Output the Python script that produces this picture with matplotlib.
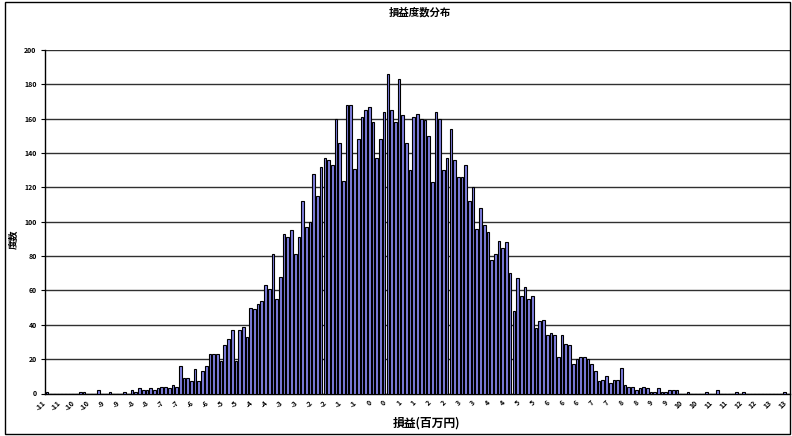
import numpy as np
import matplotlib
matplotlib.use("Agg")
import matplotlib.pyplot as plt
import matplotlib.transforms as mtransforms

plt.rcParams['font.family'] = ['Noto Sans CJK JP', 'DejaVu Sans']

# frequency counts for each of the 201 classes
counts = [
    1, 0, 0, 0, 0, 0, 0, 0, 0, 1,
    1, 0, 0, 0, 2, 0, 0, 1, 0, 0,
    0, 1, 0, 2, 1, 3, 2, 2, 3, 2,
    3, 4, 4, 3, 5, 4, 16, 9, 9, 7,
    14, 7, 13, 16, 23, 23, 23, 19, 28, 32,
    37, 19, 37, 39, 33, 50, 49, 52, 54, 63,
    61, 81, 55, 68, 93, 91, 95, 81, 91, 112,
    97, 100, 128, 115, 132, 137, 136, 133, 160, 146,
    124, 168, 168, 131, 148, 161, 165, 167, 158, 137,
    148, 164, 186, 165, 158, 183, 162, 146, 130, 161,
    163, 160, 159, 150, 123, 164, 160, 130, 137, 154,
    136, 126, 126, 133, 112, 120, 96, 108, 98, 94,
    78, 81, 89, 85, 88, 70, 48, 67, 57, 62,
    55, 57, 38, 42, 43, 34, 35, 34, 21, 34,
    29, 28, 17, 20, 21, 21, 20, 17, 13, 7,
    8, 10, 6, 8, 8, 15, 5, 4, 4, 2,
    3, 4, 3, 1, 1, 3, 1, 1, 2, 2,
    2, 0, 0, 1, 0, 0, 0, 0, 1, 0,
    0, 2, 0, 0, 0, 0, 1, 0, 1, 0,
    0, 0, 0, 0, 0, 0, 0, 0, 0, 1,
    0,
]

# category labels shown on every 4th class (rounded to whole 百万円)
tick_labels = [
    -11, -11, -10, -10, -9, -9, -8, -8, -7, -7,
    -6, -6, -5, -5, -4, -4, -3, -3, -2, -2,
    -1, -1, 0, 0, 1, 1, 2, 2, 3, 3,
    4, 4, 5, 5, 6, 6, 6, 7, 7, 8,
    8, 9, 9, 10, 10, 11, 11, 12, 12, 13,
    13,
]
label_step = 4

title = "損益度数分布"
xlabel = "損益(百万円)"
ylabel = "度数"

W, H = 792, 436
fig = plt.figure(figsize=(W / 100, H / 100), dpi=100)
ax = fig.add_axes([45 / W, 1 - 393.5 / H, 745 / W, 343.5 / H])

# outer chart frame
fig.patches.append(plt.Rectangle((5 / W, 2 / H), 785 / W, 432 / H, transform=fig.transFigure,
                                 fill=False, edgecolor='black', linewidth=1.0))

x = np.arange(len(counts))
ax.bar(x, counts, width=0.72, color='#8080E0', edgecolor='black', linewidth=0.8, zorder=3)

ax.set_xlim(-0.5, len(counts) - 0.5)
ax.set_ylim(0, 200)
ax.set_yticks(np.arange(0, 201, 20))
ax.yaxis.grid(True, color='#303030', linewidth=1.0, zorder=0)
ax.set_axisbelow(True)

ticks = x[::label_step]
ax.set_xticks(ticks)
ax.set_xticklabels([str(v) for v in tick_labels], rotation=45, ha='right',
                   rotation_mode='anchor', fontsize=5, fontweight='bold')
ax.tick_params(axis='x', length=0, pad=4)
shift = mtransforms.ScaledTranslation(-5 / 100, 0, fig.dpi_scale_trans)
for lbl in ax.get_xticklabels():
    lbl.set_transform(lbl.get_transform() + shift)
ax.tick_params(axis='y', length=3, width=0.8, labelsize=5, pad=3)
for lbl in ax.get_yticklabels():
    lbl.set_fontweight('bold')

for side in ['top', 'right']:
    ax.spines[side].set_visible(False)
ax.spines['left'].set_linewidth(1.0)
ax.spines['bottom'].set_linewidth(1.0)

fig.text(420 / W, 1 - 12 / H, title, fontsize=7.5, fontweight='bold', ha='center', va='center')
fig.text(427 / W, 1 - 423 / H, xlabel, fontsize=8.5, fontweight='bold', ha='center', va='center')
fig.text(14 / W, 1 - 239 / H, ylabel, fontsize=7, fontweight='bold', ha='center', va='center',
         rotation=90)

fig.savefig("out.png", dpi=100)
